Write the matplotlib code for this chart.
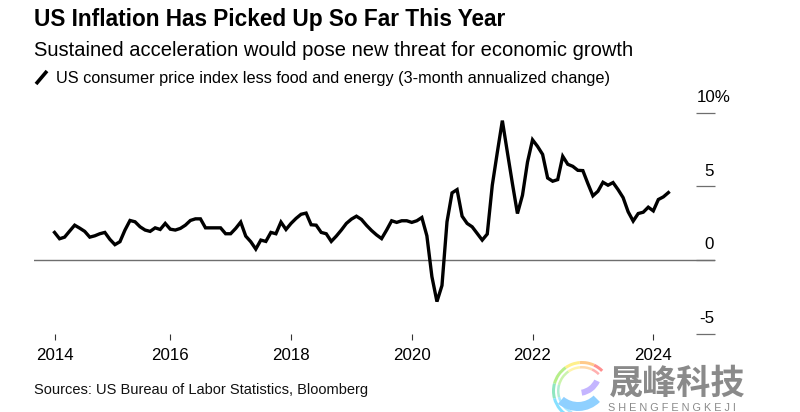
import matplotlib
matplotlib.use('Agg')
import matplotlib.pyplot as plt
from matplotlib.patches import Wedge
import numpy as np

W, H = 800, 412

# Monthly values ending Apr 2024
cpi_core = [
    1.87, 1.44, 1.55, 1.96, 2.36, 2.16, 1.94, 1.55, 1.64, 1.78, 1.87, 1.40,
    1.04, 1.24, 2.03, 2.68, 2.59, 2.25, 2.03, 1.94, 2.18, 2.07, 2.48, 2.09,
    2.03, 2.14, 2.36, 2.68, 2.79, 2.79, 2.18, 2.18, 2.18, 2.18, 1.78, 1.78,
    2.14, 2.57, 1.62, 1.24, 0.74, 1.35, 1.26, 1.87, 1.78, 2.57, 2.07, 2.48,
    2.82, 3.10, 3.18, 2.39, 2.36, 1.87, 1.78, 1.26, 1.62, 2.03, 2.48, 2.77,
    2.97, 2.75, 2.35, 2.00, 1.70, 1.45, 2.03, 2.66, 2.55, 2.66, 2.66, 2.55,
    2.66, 2.88, 1.64, -1.13, -2.82, -1.73, 2.59, 4.55, 4.77, 2.97, 2.48, 2.25,
    1.80, 1.35, 1.76, 5.07, 7.30, 9.45, 7.30, 5.18, 3.15, 4.39, 6.64, 8.15,
    7.70, 7.16, 5.56, 5.34, 5.45, 7.03, 6.49, 6.35, 6.08, 6.06, 5.18, 4.35,
    4.66, 5.27, 5.07, 5.25, 4.77, 4.23, 3.27, 2.64, 3.15, 3.24, 3.58, 3.33,
    4.10, 4.28, 4.57,
]
x_labels = ['2014', '2016', '2018', '2020', '2022', '2024']
y_ticks = [10, 5, 0, -5]
y_labels = ['10%', '5', '0', '-5']

title = 'US Inflation Has Picked Up So Far This Year'
subtitle = 'Sustained acceleration would pose new threat for economic growth'
legend_text = 'US consumer price index less food and energy (3-month annualized change)'
source = 'Sources: US Bureau of Labor Statistics, Bloomberg'

plt.rcParams['font.family'] = ['Liberation Sans', 'DejaVu Sans']

fig = plt.figure(figsize=(W / 100, H / 100), dpi=100, facecolor='white')

# chart axes, placed in pixels
left, right, top, bottom = 34, 715, 100, 334
ax = fig.add_axes([left / W, 1 - bottom / H, (right - left) / W, (bottom - top) / H])
px_year = 60.38
px_unit = 14.75
ax.set_xlim(2024 + (left - 653.3) / px_year, 2024 + (right - 653.3) / px_year)
ax.set_ylim((260 - bottom) / px_unit, (260 - top) / px_unit)
for s in ax.spines.values():
    s.set_visible(False)
ax.patch.set_alpha(0)

ax.axhline(0, color='#6e6e6e', lw=1.0, zorder=1)
years = 2024.25 - (len(cpi_core) - 1 - np.arange(len(cpi_core))) / 12
ax.plot(years, cpi_core, color='black', lw=2.4, solid_joinstyle='miter', zorder=3)

# first tick sits on the first data point, the rest on January
ax.set_xticks([years[0], 2016, 2018, 2020, 2022, 2024])
ax.set_xticklabels(x_labels, fontsize=12.2)
ax.tick_params(axis='x', length=4.3, width=0.8, color='#333333', pad=5.8)
ax.yaxis.tick_right()
ax.set_yticks(y_ticks)
ax.set_yticklabels([])
ax.tick_params(axis='y', direction='in', length=13.7, width=0.9, color='#6e6e6e')
for v, lab in zip(y_ticks, y_labels):
    is_top = lab.endswith('%')
    label_x = 2024 + ((697 if is_top else 714) - 653.3) / px_year
    ax.text(label_x, v + 10.6 / px_unit, lab, fontsize=12.2, va='baseline',
            ha='left' if is_top else 'right', color='black')

# overlay in pixel coordinates for the header, source and watermark
ov = fig.add_axes([0, 0, 1, 1])
ov.set_xlim(0, W)
ov.set_ylim(H, 0)
ov.axis('off')
ov.patch.set_alpha(0)

ov.text(34, 26, title, fontsize=16.33, fontweight='bold', color='black', va='baseline')
ov.text(34, 56, subtitle, fontsize=14.46, color='black', va='baseline')
ov.text(56, 83, legend_text, fontsize=11.74, color='black', va='baseline')
ov.plot([36, 47], [84, 71], color='black', lw=2.6, solid_capstyle='butt')
ov.text(34, 394, source, fontsize=10.49, color='#111111', va='baseline')

# watermark logo: outer bands, then the swooshes inside
for t1, t2, c in [
    (295, 315, '#ff8f8f'), (265, 295, '#ffc98a'), (235, 265, '#fff08a'),
    (195, 235, '#b6ee8a'), (165, 195, '#8fe6c0'), (115, 165, '#86e0ff'),
]:
    ov.add_patch(Wedge((582, 391), 30, t1, t2, width=3, facecolor=c, edgecolor='none', zorder=5))
    ov.add_patch(Wedge((582, 391), 25, t1, t2, width=2.5, facecolor=c, alpha=0.7, edgecolor='none', zorder=5))
ov.add_patch(Wedge((578, 380), 31, 45, 130, width=9, facecolor='#8fd0ff', edgecolor='none', zorder=5))
ov.add_patch(Wedge((578, 372), 24, 25, 80, width=6, facecolor='#c4b5ff', edgecolor='none', zorder=5))

ov.text(609, 394, '晟峰科技', fontsize=24.6, fontweight='bold', color='#8a8a8a',
        family=['Noto Sans CJK SC', 'DejaVu Sans'], va='baseline', zorder=6)
ov.text(608, 411, 'S H E N G F E N G K E J I', fontsize=7.8, color='#8a8a8a', va='baseline', zorder=6)

fig.savefig('out.png', dpi=100, facecolor='white')
